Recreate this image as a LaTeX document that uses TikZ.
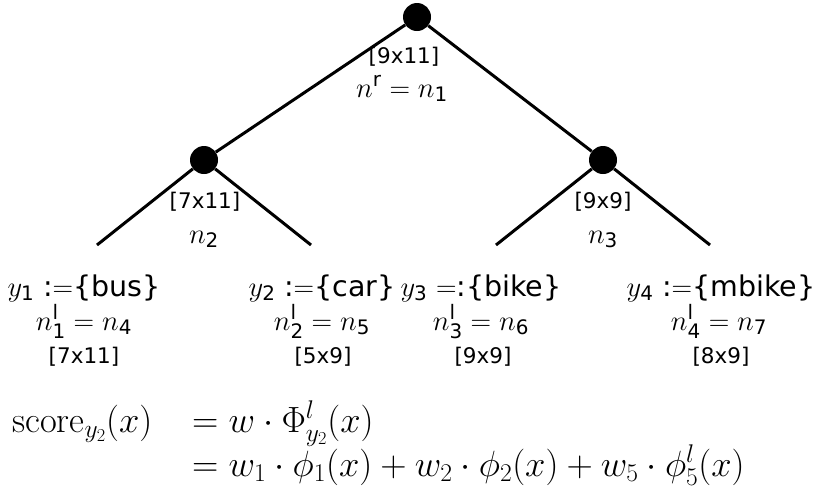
\RequirePackage{fix-cm}
\documentclass[tikz,border=0pt]{standalone}
\usepackage{amsmath}
\usepackage{fontspec}
\newfontfamily\dv{DejaVu Sans}
\newcommand\sd[1]{\text{\dv #1}}
\tikzset{
 dot/.style={circle,fill=black,inner sep=0pt,minimum size=28pt},
 edge/.style={line width=3pt},
 dims/.style={font=\dv\fontsize{21.5}{25}\selectfont, inner sep=0pt},
 mlab/.style={font=\fontsize{28.5}{34}\selectfont, inner sep=0pt, anchor=base},
 eq/.style={font=\fontsize{36.5}{44}\selectfont, inner sep=0pt, anchor=base west},
}
\begin{document}
\begin{tikzpicture}[x=1pt,y=-1pt]
\useasboundingbox (0,0) rectangle (813,488);
% tree
\node[dot] (r) at (417,17) {};
\node[dot] (a) at (204,160) {};
\node[dot] (b) at (603,160) {};
\coordinate (e1) at (97,245);
\coordinate (e2) at (311,245);
\coordinate (e3) at (496,245);
\coordinate (e4) at (710,245);
\draw[edge] (r) -- (a);
\draw[edge] (r) -- (b);
\draw[edge] (a) -- (e1);
\draw[edge] (a) -- (e2);
\draw[edge] (b) -- (e3);
\draw[edge] (b) -- (e4);
% inner labels
\node[dims] (dr) at (404,57) {[9x11]};
\node[mlab] (nr) at (402,97) {$n^{\sd r}=n_{\sd 1}$};
\node[dims] (da) at (205,202) {[7x11]};
\node[mlab] (na) at (204,243) {$n_{\sd 2}$};
\node[dims] (db) at (603,202) {[9x9]};
\node[mlab] (nb) at (603,243) {$n_{\sd 3}$};
% leaves
\node[mlab] (y1) at (84,296) {$y_{\sd 1}$ {\dv:}$=${\dv\{bus\}}};
\node[mlab] (m1) at (84,330) {$n^{\sd l}_{\sd 1}=n_{\sd 4}$};
\node[dims] (d1) at (84,357) {[7x11]};
\node[mlab] (y2) at (322,296) {$y_{\sd 2}$ {\dv:}$=${\dv\{car\}}};
\node[mlab] (m2) at (322,330) {$n^{\sd l}_{\sd 2}=n_{\sd 5}$};
\node[dims] (d2) at (323,357) {[5x9]};
\node[mlab] (y3) at (481,296) {$y_{\sd 3}$ $=${\dv:}{\dv\{bike\}}};
\node[mlab] (m3) at (481,330) {$n^{\sd l}_{\sd 3}=n_{\sd 6}$};
\node[dims] (d3) at (483,357) {[9x9]};
\node[mlab] (y4) at (721,296) {$y_{\sd 4}$ {\dv:}$=${\dv\{mbike\}}};
\node[mlab] (m4) at (719,330) {$n^{\sd l}_{\sd 4}=n_{\sd 7}$};
\node[dims] (d4) at (721,357) {[8x9]};
% equation
\node[eq] (sc) at (12,432) {$\mathrm{score}_{y_2}(x)$};
\node[eq] (q1) at (192,432) {$=w\cdot\Phi^l_{y_2}(x)$};
\node[eq] (q2) at (192,476) {$=w_1\cdot\phi_1(x)+w_2\cdot\phi_2(x)+w_5\cdot\phi^l_5(x)$};
\end{tikzpicture}
\end{document}
